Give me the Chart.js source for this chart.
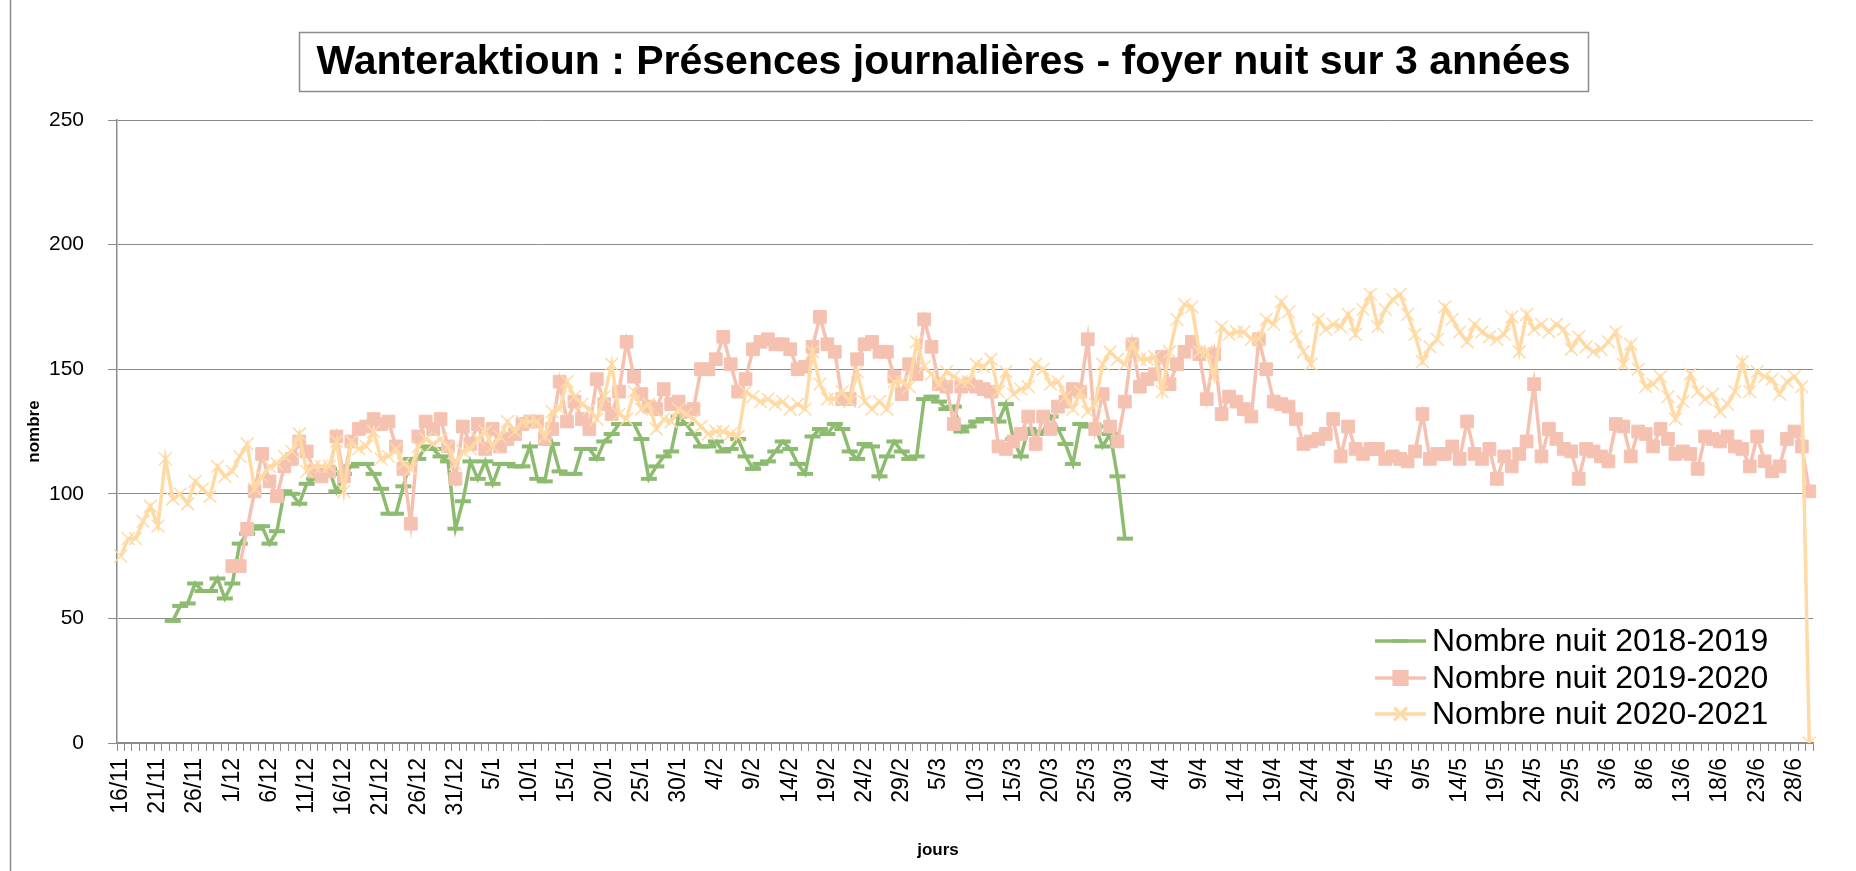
<!DOCTYPE html>
<html>
<head>
<meta charset="utf-8">
<script src="https://cdn.jsdelivr.net/npm/chart.js@4.4.1/dist/chart.umd.min.js"></script>
<style>
html, body { margin: 0; padding: 0; background: #fff; }
#wrap { width: 1856px; height: 871px; }
</style>
</head>
<body>
<div id="wrap"><canvas id="myChart" width="1856" height="871"></canvas></div>
<script>
// months of the season: [month, first day, last day]
const mois = [[11, 16, 30], [12, 1, 31], [1, 1, 31], [2, 1, 29], [3, 1, 31], [4, 1, 30], [5, 1, 31], [6, 1, 30]];
let jours = [];
mois.forEach(m => { for (let d = m[1]; d <= m[2]; d++) jours.push(d + '/' + m[0]); });

const titre = 'Wanteraktioun : Présences journalières - foyer nuit sur 3 années';
const yTicks = [0, 50, 100, 150, 200, 250];

// 2018-2019 starts on 23/11, ends on 31/3
const nuit2018 = [null, null, null, null, null, null, null,
    49, 55, 56, 64, 61, 61, 66, 58, 64, 80,
    84, 86, 87, 80, 85, 101, 100, 96, 104, 106,
    109, 110, 101, 108, 111, 112, 112, 108, 102, 92,
    92, 103, 114, 114, 119, 118, 115, 113, 86, 97,
    113, 106, 113, 104, 112, 112, 111, 111, 119, 106,
    105, 120, 109, 108, 108, 118, 118, 114, 121, 124,
    128, 128, 128, 122, 106, 111, 115, 117, 131, 128,
    124, 119, 119, 121, 117, 118, 122, 115, 110, 112,
    113, 117, 121, 118, 112, 108, 123, 126, 124, 128,
    126, 117, 114, 120, 119, 107, 115, 121, 117, 114,
    115, 138, 139, 137, 134, 135, 125, 127, 129, 130,
    130, 129, 136, 122, 115, 126, 124, 125, 131, 126,
    120, 112, 128, 127, 127, 119, 124, 107, 82];

// 2019-2020 starts on 1/12
const nuit2019 = [null, null, null, null, null, null, null, null, null, null, null, null, null, null, null,
    71, 71, 86, 101, 116, 105, 99, 111, 114, 121,
    117, 109, 107, 109, 123, 107, 121, 126, 127, 130,
    128, 129, 119, 110, 88, 123, 129, 126, 130, 119,
    106, 127, 120, 128, 118, 126, 119, 122, 124, 128,
    129, 129, 122, 126, 145, 129, 137, 130, 126, 146,
    136, 132, 141, 161, 147, 140, 135, 134, 142, 136,
    137, 133, 134, 150, 150, 154, 163, 152, 141, 146,
    158, 161, 162, 160, 160, 158, 150, 151, 159, 171,
    160, 157, 138, 138, 154, 160, 161, 157, 157, 147,
    140, 152, 148, 170, 159, 144, 143, 128, 143, 144,
    143, 142, 141, 119, 118, 121, 124, 131, 120, 131,
    126, 135, 137, 142, 141, 162, 126, 140, 127, 121,
    137, 160, 143, 146, 148, 155, 144, 152, 157, 161,
    156, 138, 156, 132, 139, 137, 134, 131, 162, 150,
    137, 136, 135, 130, 120, 121, 122, 124, 130, 115,
    127, 118, 116, 118, 118, 114, 115, 114, 113, 117,
    132, 114, 116, 116, 119, 114, 129, 116, 114, 118,
    106, 115, 111, 116, 121, 144, 115, 126, 122, 118,
    117, 106, 118, 117, 115, 113, 128, 127, 115, 125,
    124, 119, 126, 122, 116, 117, 116, 110, 123, 122,
    121, 123, 119, 118, 111, 123, 113, 109, 111, 122,
    125, 119, 101];

const nuit2020 = [75, 82, 82, 89, 95, 87, 114, 98, 100, 96,
    105, 102, 99, 111, 107, 109, 115, 120, 102, 107,
    111, 112, 115, 117, 124, 109, 111, 111, 111, 121,
    101, 121, 118, 119, 125, 114, 115, 118, 112, 110,
    119, 122, 120, 122, 119, 112, 117, 118, 122, 125,
    119, 123, 129, 125, 129, 129, 129, 123, 133, 134,
    145, 139, 136, 134, 130, 139, 152, 132, 130, 141,
    134, 136, 126, 130, 129, 134, 132, 130, 127, 124,
    125, 125, 124, 123, 141, 139, 137, 138, 136, 137,
    134, 136, 134, 157, 144, 138, 138, 141, 137, 149,
    137, 134, 137, 134, 145, 145, 143, 161, 151, 148,
    144, 149, 147, 145, 145, 152, 151, 154, 141, 149,
    140, 142, 143, 152, 150, 144, 145, 139, 134, 141,
    133, 136, 152, 157, 154, 152, 160, 154, 154, 155,
    141, 157, 170, 176, 175, 157, 157, 147, 167, 164,
    165, 165, 162, 162, 170, 168, 177, 173, 163, 157,
    152, 170, 166, 168, 167, 172, 164, 174, 180, 167,
    174, 178, 180, 172, 164, 153, 159, 162, 175, 170,
    165, 161, 168, 165, 163, 162, 164, 171, 157, 172,
    166, 168, 165, 168, 166, 158, 163, 159, 157, 158,
    161, 165, 152, 160, 150, 143, 144, 147, 139, 130,
    137, 148, 141, 138, 140, 133, 136, 141, 153, 141,
    149, 147, 146, 140, 145, 147, 143, 0];

const vert = 'rgb(141,187,112)';
const rose = 'rgb(245,194,178)';
const creme = 'rgb(255,218,164)';
const gris = '#8c8c8c';
const police = "'Liberation Sans', Arial, sans-serif";

// frame, title box, x axis title and legend
const decor = {
    id: 'decor',
    beforeDraw(c) {
        const ctx = c.ctx;
        ctx.save();
        ctx.fillStyle = '#fff';
        ctx.fillRect(0, 0, c.width, c.height);
        ctx.strokeStyle = gris;
        ctx.lineWidth = 1.5;
        ctx.beginPath();
        ctx.moveTo(10.5, 0);
        ctx.lineTo(10.5, c.height);
        ctx.stroke();
        ctx.restore();
    },
    afterDraw(c) {
        const ctx = c.ctx;
        ctx.save();
        // title
        ctx.fillStyle = '#fff';
        ctx.fillRect(299, 32, 1289, 59);
        ctx.strokeStyle = gris;
        ctx.lineWidth = 1.5;
        ctx.strokeRect(299.5, 32.5, 1289, 59);
        ctx.fillStyle = '#000';
        ctx.font = "bold 41px " + police;
        ctx.textAlign = 'center';
        ctx.textBaseline = 'middle';
        ctx.fillText(titre, 943.5, 63);
        // x axis title
        ctx.font = "bold 17px " + police;
        ctx.fillText('jours', 938, 850);
        // legend
        const rows = [641, 678, 714];
        c.data.datasets.forEach((ds, i) => {
            const y = rows[i];
            ctx.strokeStyle = ds.borderColor;
            ctx.fillStyle = ds.borderColor;
            ctx.lineWidth = ds.borderWidth;
            ctx.beginPath();
            ctx.moveTo(1375, y);
            ctx.lineTo(1426, y);
            ctx.stroke();
            Chart.helpers.drawPoint(ctx, {
                pointStyle: ds.pointStyle,
                radius: ds.pointRadius,
                borderWidth: ds.pointBorderWidth,
                rotation: 0
            }, 1400.5, y);
            ctx.fillStyle = '#000';
            ctx.font = "32px " + police;
            ctx.textAlign = 'left';
            ctx.textBaseline = 'middle';
            ctx.fillText(ds.label, 1432, y + 1);
        });
        ctx.restore();
    }
};

const ctx = document.getElementById('myChart');
const chart = new Chart(ctx, {
    type: 'line',
    data: {
        labels: jours,
        datasets: [
            {
                label: 'Nombre nuit 2018-2019',
                data: nuit2018,
                borderColor: vert,
                backgroundColor: vert,
                borderWidth: 3.5,
                pointStyle: 'line',
                pointRadius: 8,
                pointBorderWidth: 4,
                order: 3
            },
            {
                label: 'Nombre nuit 2019-2020',
                data: nuit2019,
                borderColor: rose,
                backgroundColor: rose,
                borderWidth: 3.5,
                pointStyle: 'rect',
                pointRadius: 9,
                pointBorderWidth: 1,
                order: 2
            },
            {
                label: 'Nombre nuit 2020-2021',
                data: nuit2020,
                borderColor: creme,
                backgroundColor: creme,
                borderWidth: 3.5,
                pointStyle: 'crossRot',
                pointRadius: 9,
                pointBorderWidth: 1.5,
                order: 1
            }
        ]
    },
    options: {
        responsive: false,
        animation: false,
        devicePixelRatio: 1,
        layout: { padding: { left: 14, top: 120, right: 43, bottom: 0 } },
        elements: { line: { tension: 0 } },
        scales: {
            x: {
                offset: true,
                afterFit: (s) => { s.height = 128; },
                grid: { offset: true, drawOnChartArea: false, tickLength: 8, color: gris },
                border: { color: gris, width: 1.5 },
                ticks: {
                    autoSkip: false,
                    maxRotation: 90,
                    minRotation: 90,
                    padding: 7,
                    color: '#000',
                    font: { size: 23, family: police },
                    callback: (v, i) => (i % 5 === 0 ? jours[i] : '')
                }
            },
            y: {
                min: 0,
                max: 250,
                afterFit: (s) => { s.width = 103; },
                afterBuildTicks: (s) => { s.ticks = yTicks.map(v => ({ value: v })); },
                grid: { color: gris, tickLength: 9 },
                border: { color: gris, width: 1.5 },
                ticks: {
                    padding: 24,
                    color: '#000',
                    font: { size: 21, family: police }
                },
                title: {
                    display: true,
                    text: 'nombre',
                    color: '#000',
                    font: { size: 17, weight: 'bold', family: police },
                    padding: { top: 10, bottom: 0 }
                }
            }
        },
        plugins: {
            legend: { display: false },
            tooltip: { enabled: false }
        }
    },
    plugins: [decor]
});
</script>
</body>
</html>
